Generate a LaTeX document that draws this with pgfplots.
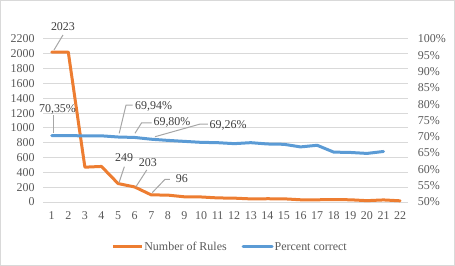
\documentclass[border=0pt]{standalone}
\usepackage{pgfplots}
\pgfplotsset{compat=1.18}
\usepackage{fontspec}
\setmainfont{Liberation Serif}
\definecolor{orng}{HTML}{ED7D31}
\definecolor{blu}{HTML}{5B9BD5}
\definecolor{grd}{HTML}{D9D9D9}
\definecolor{txt}{HTML}{595959}
\definecolor{lbl}{HTML}{404040}
\definecolor{lead}{HTML}{A6A6A6}
\begin{document}
\begin{tikzpicture}[font=\fontsize{12}{14}\selectfont]
\useasboundingbox (-43.4bp,-64bp) rectangle (411.6bp,202bp);
\draw[grd, line width=1bp] (-42.9bp,-63.5bp) rectangle (411.1bp,201.5bp);
\begin{axis}[
  scale only axis, width=365bp, height=163bp,
  at={(0,0)}, anchor=south west, clip=false,
  xmin=0.5, xmax=22.5, ymin=0, ymax=2200,
  xtick={1,...,22}, ytick={0,200,...,2200},
  axis line style={draw=none},
  ymajorgrids, grid style={grd, line width=1bp},
  major tick length=0pt, tick style={draw=none},
  tick label style={txt},
  /pgf/number format/1000 sep={},
  /pgf/number format/assume math mode=true,
  yticklabel style={xshift=-5.4bp},
  xticklabel style={yshift=-5.7bp},
]
\addplot[orng, line width=3bp, line join=round, line cap=round] coordinates {
(1,2023)(2,2023)(3,470)(4,480)(5,249)(6,203)(7,96)(8,93)(9,70)(10,68)(11,55)
(12,52)(13,42)(14,44)(15,43)(16,30)(17,30)(18,32)(19,30)(20,18)(21,28)(22,16)};
\draw[lead, line width=1bp] (axis cs:1.14,2052) -- (axis cs:1.68,2254);
\node[lbl] at (axis cs:1.68,2369) {2023};
\draw[lead, line width=1bp] (axis cs:5.06,261) -- (axis cs:5.38,477);
\node[lbl] at (axis cs:5.36,601) {249};
\draw[lead, line width=1bp] (axis cs:6.08,207) -- (axis cs:6.73,432);
\node[lbl] at (axis cs:6.8,533) {203};
\draw[lead, line width=1bp] (axis cs:7.06,126) -- (axis cs:7.83,306) -- (axis cs:8.13,306);
\node[lbl] at (axis cs:8.85,317) {96};
\end{axis}
\begin{axis}[
  scale only axis, width=365bp, height=163bp,
  at={(0,0)}, anchor=south west, clip=false,
  xmin=0.5, xmax=22.5, ymin=50, ymax=100,
  hide x axis,
  axis y line*=right,
  y axis line style={draw=none},
  ytick={50,55,...,100},
  major tick length=0pt, tick style={draw=none},
  tick label style={txt},
  /pgf/number format/assume math mode=true,
  yticklabel={\pgfmathprintnumber{\tick}\%},
  yticklabel style={xshift=6bp, anchor=west},
  legend columns=2,
  legend style={at={(0.51,-0.276)}, anchor=center, draw=none, fill=none,
    text=txt, nodes={inner sep=1bp},
    /tikz/every even column/.append style={column sep=14bp}},
  legend image code/.code={\draw[#1] (0bp,0bp) -- (29bp,0bp);},
]
\addlegendimage{orng, line width=3bp}
\addlegendentry{Number of Rules}
\addplot[blu, line width=3bp, line join=round, line cap=round] coordinates {
(1,70.35)(2,70.35)(3,70.3)(4,70.3)(5,69.94)(6,69.80)(7,69.26)(8,68.9)(9,68.6)
(10,68.3)(11,68.2)(12,67.9)(13,68.2)(14,67.8)(15,67.7)(16,66.9)(17,67.4)
(18,65.3)(19,65.2)(20,64.9)(21,65.5)};
\addlegendentry{Percent correct}
\draw[lead, line width=1bp] (axis cs:1.08,71.2) -- (axis cs:1.08,76.7);
\node[lbl] at (axis cs:1.35,78.5) {70,35\%};
\draw[lead, line width=1bp] (axis cs:5.07,71.07) -- (axis cs:5.48,79.75) -- (axis cs:5.88,79.75);
\node[lbl] at (axis cs:7.14,79.4) {69,94\%};
\draw[lead, line width=1bp] (axis cs:6.02,71.07) -- (axis cs:6.42,74.3) -- (axis cs:7.03,74.3);
\node[lbl] at (axis cs:8.25,74.5) {69,80\%};
\draw[lead, line width=1bp] (axis cs:7.23,70.03) -- (axis cs:9.94,73.9) -- (axis cs:10.42,73.9);
\node[lbl] at (axis cs:11.63,73.4) {69,26\%};
\end{axis}
\end{tikzpicture}
\end{document}
